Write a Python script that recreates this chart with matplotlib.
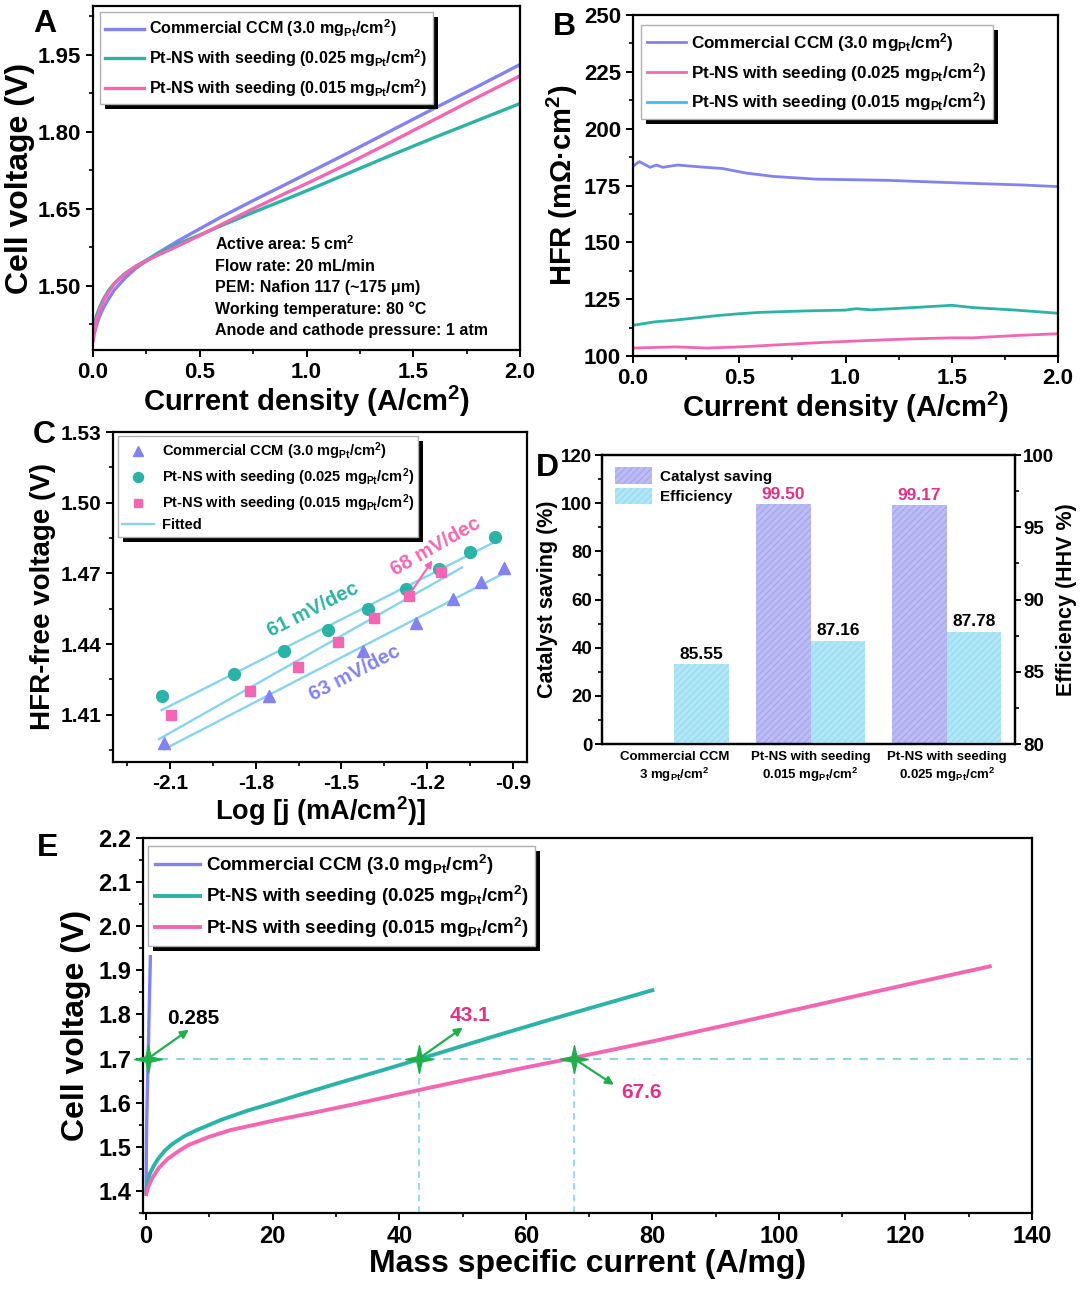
import numpy as np
import matplotlib
matplotlib.use("Agg")
import matplotlib.pyplot as plt
from matplotlib.patches import Rectangle
from matplotlib.path import Path
from matplotlib.transforms import IdentityTransform
from matplotlib.ticker import MultipleLocator, FormatStrFormatter

# ---------------- data ----------------
# Panel A / E polarization curves (current density grid, A/cm2)
j_grid = [0, 0.005, 0.015, 0.03, 0.05, 0.075, 0.1, 0.15, 0.2, 0.3, 0.4, 0.5,
          0.6, 0.75, 0.9, 1.0, 1.2, 1.4, 1.6, 1.8, 2.0]
v_ccm = [1.393, 1.405, 1.421, 1.440, 1.458, 1.476, 1.492, 1.515, 1.534, 1.563, 1.588,
         1.611, 1.634, 1.666, 1.697, 1.718, 1.760, 1.803, 1.846, 1.888, 1.931]
v_025 = [1.398, 1.420, 1.440, 1.457, 1.475, 1.492, 1.505, 1.524, 1.538, 1.562, 1.582,
         1.599, 1.617, 1.643, 1.668, 1.685, 1.720, 1.755, 1.789, 1.822, 1.855]
v_015 = [1.393, 1.410, 1.430, 1.452, 1.472, 1.489, 1.504, 1.523, 1.538, 1.559, 1.578,
         1.598, 1.619, 1.650, 1.680, 1.699, 1.739, 1.781, 1.824, 1.867, 1.909]
loadings = [3.0, 0.025, 0.015]  # mg_Pt/cm2

# Panel B HFR
jb_ccm = [0, 0.03, 0.08, 0.11, 0.14, 0.21, 0.34, 0.42, 0.53, 0.66, 0.86, 1.19, 1.51, 1.84, 2.0]
hfr_ccm = [183.5, 185.5, 183.0, 184.0, 183.0, 184.0, 183.0, 182.5, 180.5, 179.0, 177.8,
           177.3, 176.2, 175.2, 174.5]
jb_teal = [0, 0.1, 0.2, 0.3, 0.4, 0.5, 0.6, 0.8, 1.0, 1.05, 1.12, 1.3, 1.5, 1.6, 1.8, 2.0]
hfr_teal = [113.5, 115.0, 115.8, 116.8, 117.8, 118.6, 119.2, 119.8, 120.2, 120.8, 120.3,
            121.2, 122.3, 121.3, 120.2, 118.8]
jb_pink = [0, 0.2, 0.35, 0.5, 0.7, 0.9, 1.1, 1.3, 1.5, 1.6, 1.8, 2.0]
hfr_pink = [103.5, 104.0, 103.5, 104.0, 105.0, 106.0, 106.8, 107.5, 108.0, 108.0, 109.0, 109.8]

# Panel C Tafel
logj_ccm = [-2.121, -1.755, -1.426, -1.239, -1.108, -1.011, -0.932]
vt_ccm = [1.398, 1.4178, 1.4372, 1.4489, 1.4591, 1.4662, 1.4725]
logj_025 = [-2.130, -1.877, -1.702, -1.548, -1.407, -1.273, -1.157, -1.050, -0.962]
vt_025 = [1.4181, 1.4273, 1.4369, 1.4461, 1.4549, 1.4636, 1.4718, 1.4792, 1.4854]
logj_015 = [-2.096, -1.820, -1.651, -1.511, -1.385, -1.263, -1.151]
vt_015 = [1.4099, 1.4202, 1.4305, 1.4407, 1.4509, 1.4605, 1.4704]
fit_x_ccm = [-2.121, -0.932]
fit_y_ccm = [1.3954, 1.4700]
fit_x_025 = [-2.130, -0.962]
fit_y_025 = [1.4120, 1.4834]
fit_x_015 = [-2.139, -1.078]
fit_y_015 = [1.3997, 1.4725]

# Panel D
d_categories = ["Commercial CCM\n3 mg$_{Pt}$/cm$^2$",
                "Pt-NS with seeding\n0.015 mg$_{Pt}$/cm$^2$",
                "Pt-NS with seeding\n0.025 mg$_{Pt}$/cm$^2$"]
catalyst_saving = [0.0, 99.50, 99.17]
efficiency = [85.55, 87.16, 87.78]

# Panel E markers
e_mark_x = [0.285, 43.1, 67.6]
e_mark_v = 1.7

# ---------------- style ----------------
plt.rcParams.update({
    "font.family": ["Liberation Sans", "DejaVu Sans"],
    "font.weight": "bold",
    "axes.labelweight": "bold",
    "mathtext.fontset": "custom",
    "mathtext.rm": "Liberation Sans:bold",
    "mathtext.bf": "Liberation Sans:bold",
    "mathtext.it": "Liberation Sans:bold:italic",
    "mathtext.default": "bf",
    "axes.linewidth": 1.6,
    "xtick.direction": "out", "ytick.direction": "out",
    "xtick.major.size": 5, "ytick.major.size": 5,
    "xtick.minor.size": 3, "ytick.minor.size": 3,
    "xtick.major.width": 1.4, "ytick.major.width": 1.4,
    "xtick.minor.width": 1.2, "ytick.minor.width": 1.2,
    "hatch.linewidth": 0.9,
})

BLUE = "#8282f2"
TEAL = "#2ab3a6"
PINK = "#f466b2"
CYAN = "#42baf0"
FIT = "#88d4f0"
GREEN = "#1fb04c"
MAG = "#ea2d85"

W, H = 1080, 1290
fig = plt.figure(figsize=(W / 100, H / 100), dpi=100)


def add_ax(l, r, t, b):
    return fig.add_axes([l / W, 1 - b / H, (r - l) / W, (b - t) / H])


def shadow(ax, leg, off=5):
    fig.canvas.draw()
    bb = leg.get_frame().get_window_extent()
    rect = Rectangle((bb.x0 + off, bb.y0 - off), bb.width, bb.height,
                     transform=IdentityTransform(), facecolor="black",
                     edgecolor="none", zorder=leg.get_zorder() - 0.05, clip_on=False)
    ax.add_artist(rect)


def style_legend(leg):
    fr = leg.get_frame()
    fr.set_edgecolor("#b0b0b0")
    fr.set_linewidth(1.0)
    fr.set_alpha(1)


# thin 4-point star marker shape
_o, _i = 1.0, 0.18
_star = Path([(0, _o), (_i, _i), (_o, 0), (_i, -_i), (0, -_o), (-_i, -_i), (-_o, 0),
              (-_i, _i), (0, _o)], closed=True)

labels3 = ["Commercial CCM (3.0 mg$_{Pt}$/cm$^2$)",
           "Pt-NS with seeding (0.025 mg$_{Pt}$/cm$^2$)",
           "Pt-NS with seeding (0.015 mg$_{Pt}$/cm$^2$)"]

# ---------------- Panel A ----------------
axA = add_ax(93, 520, 6, 350)
axA.plot(j_grid, v_ccm, color=BLUE, lw=2.4, label=labels3[0])
axA.plot(j_grid, v_025, color=TEAL, lw=2.4, label=labels3[1])
axA.plot(j_grid, v_015, color=PINK, lw=2.4, label=labels3[2])
axA.set_xlim(0, 2.0)
axA.set_ylim(1.375, 2.045)
axA.xaxis.set_major_locator(MultipleLocator(0.5))
axA.xaxis.set_minor_locator(MultipleLocator(0.25))
axA.yaxis.set_major_locator(MultipleLocator(0.15))
axA.yaxis.set_minor_locator(MultipleLocator(0.075))
axA.yaxis.set_major_formatter(FormatStrFormatter("%.2f"))
axA.tick_params(labelsize=16)
axA.set_xlabel("Current density (A/cm$^2$)", fontsize=21, labelpad=1)
axA.set_ylabel("Cell voltage (V)", fontsize=23, labelpad=2)
legA = axA.legend(loc="upper left", bbox_to_anchor=(0.016, 0.983), borderaxespad=0,
                  fontsize=11.6, handlelength=2.4, labelspacing=0.5, fancybox=False,
                  borderpad=0.35, handletextpad=0.3)
style_legend(legA)
axA.text(0.286, 0.335,
         "Active area: 5 cm$^2$\nFlow rate: 20 mL/min\nPEM: Nafion 117 (~175 \u03bcm)\n"
         "Working temperature: 80 \u00b0C\nAnode and cathode pressure: 1 atm",
         transform=axA.transAxes, fontsize=11.5, va="top", ha="left", linespacing=1.5)
fig.text(33 / W, 1 - 24 / H, "A", fontsize=23, fontweight="bold", va="center")

# ---------------- Panel B ----------------
axB = add_ax(633, 1058, 15, 356)
axB.plot(jb_ccm, hfr_ccm, color=BLUE, lw=2.0, label=labels3[0])
axB.plot(jb_pink, hfr_pink, color=PINK, lw=2.0, label=labels3[1])
axB.plot(jb_teal, hfr_teal, color=TEAL, lw=2.0, label=labels3[2])
axB.set_xlim(0, 2.0)
axB.set_ylim(100, 250)
axB.xaxis.set_major_locator(MultipleLocator(0.5))
axB.xaxis.set_minor_locator(MultipleLocator(0.25))
axB.yaxis.set_major_locator(MultipleLocator(25))
axB.yaxis.set_minor_locator(MultipleLocator(12.5))
axB.tick_params(labelsize=16)
axB.set_xlabel("Current density (A/cm$^2$)", fontsize=21, labelpad=1)
axB.set_ylabel("HFR (m\u03a9\u00b7cm$^2$)", fontsize=21, labelpad=3)
legB = axB.legend(loc="upper left", bbox_to_anchor=(0.019, 0.971), borderaxespad=0,
                  fontsize=12.3, handlelength=2.3, labelspacing=0.4, fancybox=False,
                  borderpad=0.35, handletextpad=0.3)
legB.get_lines()[2].set_color(CYAN)
style_legend(legB)
fig.text(553 / W, 1 - 27 / H, "B", fontsize=23, fontweight="bold", va="center")

# ---------------- Panel C ----------------
axC = add_ax(113, 527, 432, 762)
axC.set_xlim(-2.3, -0.85)
axC.set_ylim(1.39, 1.53)
axC.plot(fit_x_ccm, fit_y_ccm, color=FIT, lw=1.7, zorder=2)
axC.plot(fit_x_025, fit_y_025, color=FIT, lw=1.7, zorder=2)
axC.plot(fit_x_015, fit_y_015, color=FIT, lw=1.7, zorder=2, label="Fitted")
axC.plot(logj_ccm, vt_ccm, ls="none", marker="^", ms=9, color=BLUE, label=labels3[0], zorder=3)
axC.plot(logj_025, vt_025, ls="none", marker="o", ms=8.5, color=TEAL, label=labels3[1], zorder=3)
axC.plot(logj_015, vt_015, ls="none", marker="s", ms=7.5, color=PINK, label=labels3[2], zorder=3)
axC.xaxis.set_major_locator(MultipleLocator(0.3))
axC.xaxis.set_minor_locator(MultipleLocator(0.15))
axC.yaxis.set_major_locator(MultipleLocator(0.03))
axC.yaxis.set_minor_locator(MultipleLocator(0.015))
axC.xaxis.set_major_formatter(FormatStrFormatter("%.1f"))
axC.yaxis.set_major_formatter(FormatStrFormatter("%.2f"))
axC.tick_params(labelsize=15)
axC.set_xlabel("Log [j (mA/cm$^2$)]", fontsize=19.5, labelpad=1)
axC.set_ylabel("HFR-free voltage (V)", fontsize=20, labelpad=3)
hC, lC = axC.get_legend_handles_labels()
order = [1, 2, 3, 0]
legC = axC.legend([hC[i] for i in order], [lC[i] for i in order], loc="upper left",
                  bbox_to_anchor=(0.012, 0.988), borderaxespad=0, fontsize=10.5,
                  handlelength=2.2, labelspacing=0.3, fancybox=False, borderpad=0.3,
                  handletextpad=0.5, markerscale=0.85)
style_legend(legC)


def ang(ax, xs, ys):
    p = ax.transData.transform(np.column_stack([xs, ys]))
    return np.degrees(np.arctan2(p[1, 1] - p[0, 1], p[1, 0] - p[0, 0]))


axC.text(-1.60, 1.4545, "61 mV/dec", color=TEAL, fontsize=14.5, ha="center", va="center",
         rotation=ang(axC, fit_x_025, fit_y_025), rotation_mode="anchor")
axC.text(-1.455, 1.4275, "63 mV/dec", color=BLUE, fontsize=14.5, ha="center", va="center",
         rotation=ang(axC, fit_x_ccm, fit_y_ccm), rotation_mode="anchor")
axC.text(-1.17, 1.4815, "68 mV/dec", color=PINK, fontsize=14.5, ha="center", va="center",
         rotation=ang(axC, fit_x_015, fit_y_015), rotation_mode="anchor")
axC.annotate("", xy=(-1.176, 1.4765), xytext=(-1.265, 1.4605),
             arrowprops=dict(arrowstyle="-|>", color=PINK, lw=1.5, mutation_scale=10))
fig.text(33 / W, 1 - 435 / H, "C", fontsize=23, fontweight="bold", va="center")

# ---------------- Panel D ----------------
axD = add_ax(602, 1015, 455, 744)
axD2 = axD.twinx()
xpos = np.arange(len(d_categories))
bw = 0.4
bars1 = axD.bar(xpos - bw / 2, catalyst_saving, width=bw, color="#bcbcf5",
                edgecolor="#a6a6ec", hatch="/////", linewidth=0, label="Catalyst saving")
bars2 = axD2.bar(xpos + bw / 2, np.array(efficiency) - 80, bottom=80, width=bw,
                 color="#b0e7f7", edgecolor="#9bdaf1", hatch="/////", linewidth=0,
                 label="Efficiency")
axD.set_xlim(-0.53, 2.5)
axD.set_ylim(0, 120)
axD2.set_ylim(80, 100)
axD.yaxis.set_major_locator(MultipleLocator(20))
axD.yaxis.set_minor_locator(MultipleLocator(10))
axD2.yaxis.set_major_locator(MultipleLocator(5))
axD2.yaxis.set_minor_locator(MultipleLocator(2.5))
axD.set_xticks(xpos)
axD.set_xticklabels(d_categories, fontsize=9.5, linespacing=1.25)
axD.tick_params(axis="x", length=0, pad=5)
axD.tick_params(axis="y", labelsize=13.5, pad=2)
axD2.tick_params(axis="y", labelsize=13.5, pad=2, length=4)
axD.set_ylabel("Catalyst saving (%)", fontsize=15.5, labelpad=2)
axD2.set_ylabel("Efficiency (HHV %)", fontsize=15.5, labelpad=1)
for xb, v in zip(xpos - bw / 2, catalyst_saving):
    if v > 0:
        axD.text(xb, v + 1.0, f"{v:.2f}", color=MAG, fontsize=12.5, ha="center", va="bottom")
for xb, v in zip(xpos + bw / 2, efficiency):
    axD2.text(xb, v + 0.15, f"{v:.2f}", color="black", fontsize=12.5, ha="center", va="bottom")
legD = axD2.legend(handles=[bars1, bars2], loc="upper left", bbox_to_anchor=(0.01, 0.99),
                   frameon=False, fontsize=11, handlelength=2.4, handleheight=1.3,
                   labelspacing=0.25, borderaxespad=0.2, handletextpad=0.5)
fig.text(536 / W, 1 - 468 / H, "D", fontsize=23, fontweight="bold", va="center")

# ---------------- Panel E ----------------
axE = add_ax(143, 1032, 838, 1213)
xE = [np.array(j_grid) / L for L in loadings]
axE.plot(xE[0], v_ccm, color=BLUE, lw=2.4, label=labels3[0], zorder=3)
axE.plot(xE[1], v_025, color=TEAL, lw=2.8, label=labels3[1], zorder=3)
axE.plot(xE[2], v_015, color=PINK, lw=2.8, label=labels3[2], zorder=3)
axE.set_xlim(-0.5, 140)
axE.set_ylim(1.35, 2.2)
axE.axhline(e_mark_v, color=FIT, lw=1.5, ls=(0, (4, 4)), zorder=2)
for xm in e_mark_x[1:]:
    axE.plot([xm, xm], [1.35, e_mark_v], color=FIT, lw=1.2, ls=(0, (4, 3)), zorder=2)
axE.plot(e_mark_x, [e_mark_v] * 3, ls="none", marker=_star, ms=20, color=GREEN,
         zorder=5, clip_on=False)
arrow_kw = dict(arrowstyle="-|>", color=GREEN, lw=1.6, mutation_scale=12)
axE.annotate("", xy=(7.1, 1.769), xytext=(0.285, 1.70), arrowprops=arrow_kw)
axE.annotate("", xy=(50.4, 1.774), xytext=(43.1, 1.70), arrowprops=arrow_kw)
axE.annotate("", xy=(74.3, 1.637), xytext=(67.6, 1.70), arrowprops=arrow_kw)
axE.text(7.5, 1.79, "0.285", color="black", fontsize=15, ha="center", va="center")
axE.text(51.2, 1.797, "43.1", color=MAG, fontsize=15, ha="center", va="center")
axE.text(78.3, 1.624, "67.6", color=MAG, fontsize=15, ha="center", va="center")
axE.xaxis.set_major_locator(MultipleLocator(20))
axE.xaxis.set_minor_locator(MultipleLocator(10))
axE.yaxis.set_major_locator(MultipleLocator(0.1))
axE.yaxis.set_minor_locator(MultipleLocator(0.05))
axE.yaxis.set_major_formatter(FormatStrFormatter("%.1f"))
axE.tick_params(labelsize=17)
axE.set_xlabel("Mass specific current (A/mg)", fontsize=23, labelpad=1)
axE.set_ylabel("Cell voltage (V)", fontsize=23, labelpad=5)
legE = axE.legend(loc="upper left", bbox_to_anchor=(0.006, 0.979), borderaxespad=0,
                  fontsize=13.5, handlelength=2.4, labelspacing=0.4, fancybox=False,
                  borderpad=0.35, handletextpad=0.3)
style_legend(legE)
fig.text(37 / W, 1 - 848 / H, "E", fontsize=23, fontweight="bold", va="center")

for ax, leg in [(axA, legA), (axB, legB), (axC, legC), (axE, legE)]:
    shadow(ax, leg, off=5)

fig.savefig("out.png", dpi=100)
